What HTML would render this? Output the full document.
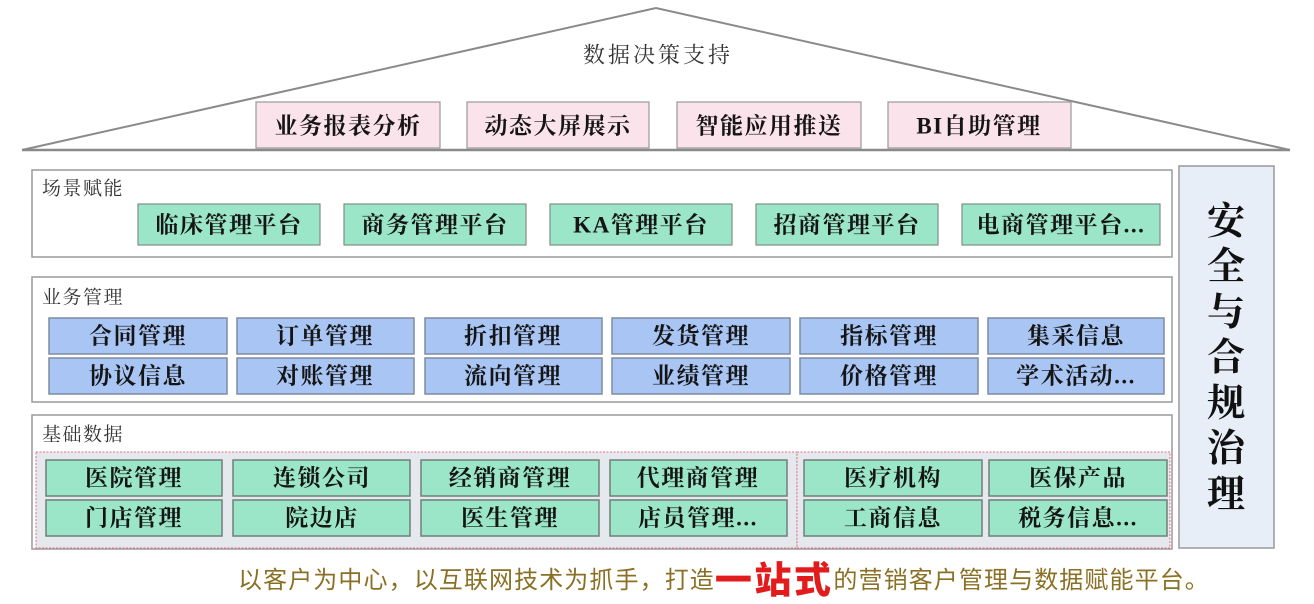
<!DOCTYPE html>
<html>
<head>
<meta charset="utf-8">
<style>
  html,body{margin:0;padding:0;background:#fff;}
  svg{display:block;}
  .box{font-family:"Liberation Serif","Noto Serif CJK SC",serif;font-weight:700;font-size:23px;fill:#151515;letter-spacing:1.5px;}
  .lbl{font-family:"Liberation Serif","Noto Serif CJK SC",serif;font-size:19px;fill:#333;letter-spacing:1.5px;}
  .roof{font-family:"Liberation Serif","Noto Serif CJK SC",serif;font-size:22px;fill:#333;letter-spacing:3px;}
  .side{font-family:"Liberation Serif","Noto Serif CJK SC",serif;font-weight:700;font-size:38px;fill:#111;}
  .foot{font-family:"Liberation Sans","Noto Sans CJK SC",sans-serif;font-size:24px;fill:#8a7024;letter-spacing:1.1px;}
  .red{font-family:"Liberation Sans","Noto Sans CJK SC",sans-serif;font-size:37px;font-weight:900;fill:#e21c1c;letter-spacing:2.5px;}
</style>
</head>
<body>
<svg width="1314" height="604" viewBox="0 0 1314 604" xmlns="http://www.w3.org/2000/svg">
  <rect width="1314" height="604" fill="#fff"/>

  <!-- Roof -->
  <polyline points="22,150 656,8 1290,150" fill="none" stroke="#8a8a8a" stroke-width="2"/>
  <line x1="22" y1="150" x2="1290" y2="150" stroke="#8a8a8a" stroke-width="2.5"/>
  <text class="roof" x="658" y="55" text-anchor="middle" dominant-baseline="central">数据决策支持</text>

  <g fill="#fbe3ec" stroke="#9a9a9a" stroke-width="1.2">
    <rect x="256" y="102" width="184" height="46"/>
    <rect x="467" y="102" width="182" height="46"/>
    <rect x="677" y="102" width="184" height="46"/>
    <rect x="888" y="102" width="183" height="46"/>
  </g>
  <g class="box" text-anchor="middle" dominant-baseline="central">
    <text x="348" y="126">业务报表分析</text>
    <text x="558" y="126">动态大屏展示</text>
    <text x="769" y="126">智能应用推送</text>
    <text x="979" y="126">BI自助管理</text>
  </g>

  <!-- Right panel -->
  <rect x="1179" y="166" width="95" height="382" fill="#e8eef8" stroke="#9a9a9a" stroke-width="1.5"/>
  <g class="side" text-anchor="middle" dominant-baseline="central">
    <text x="1226" y="222">安</text>
    <text x="1226" y="267">全</text>
    <text x="1226" y="313">与</text>
    <text x="1226" y="358">合</text>
    <text x="1226" y="404">规</text>
    <text x="1226" y="449">治</text>
    <text x="1226" y="495">理</text>
  </g>

  <!-- 场景赋能 -->
  <rect x="32" y="170" width="1140" height="87" fill="#fff" stroke="#9a9a9a" stroke-width="1.5"/>
  <text class="lbl" x="42" y="189" dominant-baseline="central">场景赋能</text>
  <g fill="#9be6c8" stroke="#7d8f88" stroke-width="1.2">
    <rect x="138" y="204" width="182" height="41"/>
    <rect x="344" y="204" width="182" height="41"/>
    <rect x="550" y="204" width="182" height="41"/>
    <rect x="756" y="204" width="182" height="41"/>
    <rect x="962" y="204" width="198" height="41"/>
  </g>
  <g class="box" text-anchor="middle" dominant-baseline="central">
    <text x="229" y="225">临床管理平台</text>
    <text x="435" y="225">商务管理平台</text>
    <text x="641" y="225">KA管理平台</text>
    <text x="847" y="225">招商管理平台</text>
    <text x="1061" y="225">电商管理平台...</text>
  </g>

  <!-- 业务管理 -->
  <rect x="32" y="277" width="1140" height="125" fill="#fff" stroke="#9a9a9a" stroke-width="1.5"/>
  <text class="lbl" x="42" y="298" dominant-baseline="central">业务管理</text>
  <g fill="#a8c5f4" stroke="#7e8ba0" stroke-width="1.5">
    <rect x="49" y="318" width="178" height="36"/>
    <rect x="237" y="318" width="177" height="36"/>
    <rect x="425" y="318" width="177" height="36"/>
    <rect x="612" y="318" width="178" height="36"/>
    <rect x="800" y="318" width="178" height="36"/>
    <rect x="988" y="318" width="176" height="36"/>
    <rect x="49" y="358" width="178" height="36"/>
    <rect x="237" y="358" width="177" height="36"/>
    <rect x="425" y="358" width="177" height="36"/>
    <rect x="612" y="358" width="178" height="36"/>
    <rect x="800" y="358" width="178" height="36"/>
    <rect x="988" y="358" width="176" height="36"/>
  </g>
  <g class="box" text-anchor="middle" dominant-baseline="central">
    <text x="138" y="336">合同管理</text>
    <text x="325" y="336">订单管理</text>
    <text x="513" y="336">折扣管理</text>
    <text x="701" y="336">发货管理</text>
    <text x="889" y="336">指标管理</text>
    <text x="1076" y="336">集采信息</text>
    <text x="138" y="376">协议信息</text>
    <text x="325" y="376">对账管理</text>
    <text x="513" y="376">流向管理</text>
    <text x="701" y="376">业绩管理</text>
    <text x="889" y="376">价格管理</text>
    <text x="1076" y="376">学术活动...</text>
  </g>

  <!-- 基础数据 -->
  <rect x="32" y="415" width="1140" height="134" fill="#fff" stroke="#9a9a9a" stroke-width="1.5"/>
  <text class="lbl" x="42" y="435" dominant-baseline="central">基础数据</text>
  <rect x="36" y="452" width="761" height="96" fill="#e5e8ec" stroke="#e07080" stroke-width="1" stroke-dasharray="2,1.5"/>
  <rect x="797" y="452" width="373" height="96" fill="#e5e8ec" stroke="#e07080" stroke-width="1" stroke-dasharray="2,1.5"/>
  <g fill="#9be6c8" stroke="#6f7f78" stroke-width="1.5">
    <rect x="46" y="460" width="176" height="36"/>
    <rect x="233" y="460" width="177" height="36"/>
    <rect x="421" y="460" width="178" height="36"/>
    <rect x="610" y="460" width="177" height="36"/>
    <rect x="804" y="460" width="178" height="36"/>
    <rect x="989" y="460" width="178" height="36"/>
    <rect x="46" y="500" width="176" height="36"/>
    <rect x="233" y="500" width="177" height="36"/>
    <rect x="421" y="500" width="178" height="36"/>
    <rect x="610" y="500" width="177" height="36"/>
    <rect x="804" y="500" width="178" height="36"/>
    <rect x="989" y="500" width="178" height="36"/>
  </g>
  <g class="box" text-anchor="middle" dominant-baseline="central">
    <text x="134" y="478">医院管理</text>
    <text x="322" y="478">连锁公司</text>
    <text x="510" y="478">经销商管理</text>
    <text x="698" y="478">代理商管理</text>
    <text x="893" y="478">医疗机构</text>
    <text x="1078" y="478">医保产品</text>
    <text x="134" y="518">门店管理</text>
    <text x="322" y="518">院边店</text>
    <text x="510" y="518">医生管理</text>
    <text x="698" y="518">店员管理...</text>
    <text x="893" y="518">工商信息</text>
    <text x="1078" y="518">税务信息...</text>
  </g>

  <!-- Footer -->
  <text x="238" y="580" dominant-baseline="central"><tspan class="foot">以客户为中心，以互联网技术为抓手，打造</tspan><tspan class="red">一站式</tspan><tspan class="foot">的营销客户管理与数据赋能平台。</tspan></text>
</svg>
</body>
</html>
